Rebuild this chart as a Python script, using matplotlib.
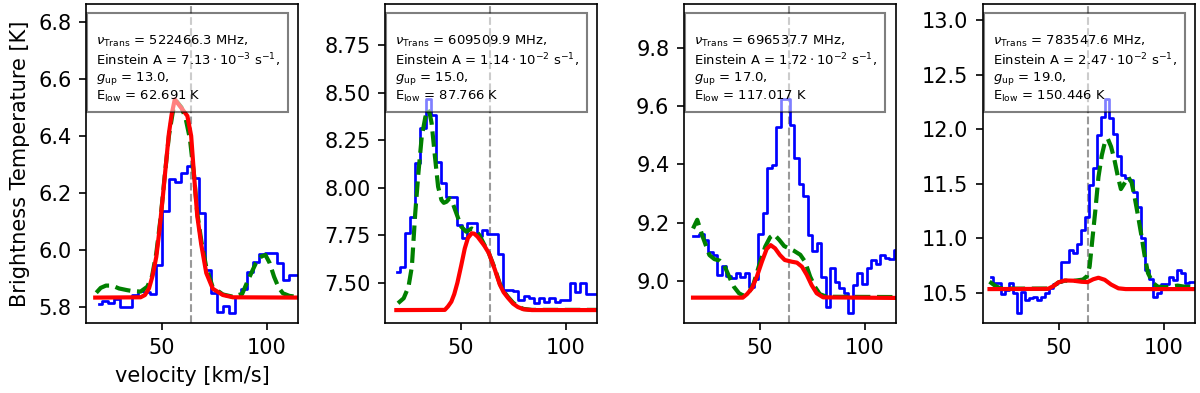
import numpy as np
import matplotlib
matplotlib.use("Agg")
import matplotlib.pyplot as plt
from matplotlib.ticker import MultipleLocator

# line info for each panel
freqs = ["522466.3", "609509.9", "696537.7", "783547.6"]
einstein = [r"7.13\cdot10^{-3}", r"1.14\cdot10^{-2}", r"1.72\cdot10^{-2}", r"2.47\cdot10^{-2}"]
g_up = ["13.0", "15.0", "17.0", "19.0"]
e_low = ["62.691", "87.766", "117.017", "150.446"]

# observed spectra (channel start velocity, channel width, brightness per channel)
obs_v0 = [20.3, 19.8, 18.1, 17.65]
obs_dv = [2.87, 2.459, 2.152, 1.913]
obs_t1 = [5.812, 5.823, 5.814, 5.828, 5.802, 5.800, 5.843, 5.857, 5.855, 5.846,
          5.948, 6.138, 6.248, 6.240, 6.271, 6.295, 6.254, 6.129, 5.931, 5.849,
          5.785, 5.805, 5.781, 5.837, 5.863, 5.925, 5.960, 5.987, 5.989, 5.989,
          5.954, 5.896, 5.913, 5.913]
obs_t2 = [7.558, 7.584, 7.760, 7.847, 8.128, 8.312, 8.465, 8.382, 8.137, 8.023,
          7.952, 7.952, 7.803, 7.733, 7.816, 7.816, 7.745, 7.777, 7.756, 7.756,
          7.650, 7.462, 7.462, 7.458, 7.409, 7.430, 7.418, 7.395, 7.418, 7.400,
          7.418, 7.400, 7.410, 7.410, 7.497, 7.450, 7.497, 7.440, 7.440, 7.440]
obs_t3 = [9.154, 9.154, 9.160, 9.141, 9.100, 9.090, 9.021, 9.050, 9.018, 9.010,
          9.026, 9.014, 9.026, 8.980, 9.008, 9.161, 9.232, 9.386, 9.398, 9.529,
          9.623, 9.623, 9.535, 9.421, 9.333, 9.291, 9.158, 9.104, 9.131, 9.015,
          8.912, 9.043, 8.998, 8.975, 8.960, 8.889, 8.986, 9.028, 8.990, 9.043,
          9.072, 9.060, 9.089, 9.080, 9.075, 9.106]
obs_t4 = [10.647, 10.586, 10.586, 10.485, 10.525, 10.592, 10.494, 10.311, 10.509, 10.433,
          10.448, 10.457, 10.433, 10.457, 10.494, 10.540, 10.580, 10.600, 10.784, 10.784,
          10.891, 10.861, 10.950, 11.075, 11.197, 11.487, 11.640, 11.946, 12.114, 12.273,
          12.106, 11.955, 11.755, 11.579, 11.550, 11.533, 11.426, 11.288, 11.000, 10.710,
          10.625, 10.460, 10.500, 10.580, 10.580, 10.647, 10.620, 10.708, 10.678, 10.586,
          10.600, 10.600]

# single-line model (red)
red_v1 = [18.4, 40.0, 42.1, 44.0, 45.6, 47.5, 49.0, 50.6, 52.2, 53.5, 54.8, 56.3,
          62.3, 64.1, 65.5, 67.0, 68.9, 71.3, 74.4, 79.2, 84.0, 115.0]
red_t1 = [5.834, 5.835, 5.843, 5.866, 5.907, 5.977, 6.070, 6.187, 6.310, 6.409, 6.475, 6.528,
          6.470, 6.400, 6.260, 6.120, 6.020, 5.920, 5.865, 5.843, 5.835, 5.834]
red_v2 = [19.4, 42.5, 44.0, 45.6, 47.0, 48.5, 50.3, 52.0, 53.5, 55.3, 56.5, 58.1,
          61.3, 63.5, 66.3, 68.7, 70.5, 72.6, 75.0, 77.3, 80.0, 84.0, 115.0]
red_t2 = [7.356, 7.357, 7.375, 7.400, 7.440, 7.500, 7.590, 7.680, 7.735, 7.760, 7.758, 7.742,
          7.695, 7.655, 7.570, 7.490, 7.450, 7.420, 7.390, 7.372, 7.360, 7.356, 7.356]
red_v3 = [18.3, 42.0, 44.0, 46.4, 48.7, 51.1, 53.4, 55.3, 57.4, 59.7, 62.0, 65.5,
          67.8, 70.2, 72.5, 74.8, 77.2, 80.3, 115.0]
red_t3 = [8.943, 8.943, 8.955, 8.975, 9.015, 9.066, 9.110, 9.123, 9.112, 9.089, 9.072, 9.066,
          9.063, 9.049, 9.021, 8.986, 8.958, 8.944, 8.942]
red_v4 = [17.1, 45.0, 47.5, 50.0, 53.0, 57.0, 61.0, 63.8, 66.5, 69.0, 72.0, 75.0,
          78.5, 82.0, 115.0]
red_t4 = [10.533, 10.535, 10.560, 10.595, 10.612, 10.610, 10.600, 10.597, 10.623, 10.637,
          10.618, 10.575, 10.540, 10.533, 10.533]

# full model (green)
grn_v1 = [18.9, 21.0, 23.5, 26.5, 29.7, 33.6, 36.0, 40.0, 43.2, 45.5, 47.5, 49.5, 51.5,
          53.5, 55.5, 57.3, 59.5, 61.5, 63.5, 65.5, 67.0, 69.0, 71.3, 74.4, 79.2, 84.0,
          88.4, 91.5, 94.9, 97.5, 99.5, 101.5, 103.6, 105.7, 107.8, 110.9, 115.0]
grn_t1 = [5.851, 5.868, 5.876, 5.876, 5.866, 5.860, 5.857, 5.855, 5.872, 5.910, 5.990, 6.110, 6.260,
          6.400, 6.490, 6.520, 6.500, 6.460, 6.390, 6.260, 6.130, 6.030, 5.940, 5.870, 5.845, 5.837,
          5.847, 5.900, 5.954, 5.978, 5.983, 5.955, 5.907, 5.870, 5.849, 5.840, 5.836]
grn_v2 = [20.2, 22.9, 25.2, 26.8, 28.4, 29.9, 31.5, 33.2, 34.4, 35.3, 36.2, 37.8, 39.3,
          40.9, 42.0, 43.3, 44.8, 46.2, 48.0, 50.3, 52.7, 55.3, 57.2, 59.0, 61.3, 63.5,
          66.3, 68.7, 70.5, 72.6, 75.0, 77.3, 80.0, 84.0, 115.0]
grn_t2 = [7.392, 7.418, 7.479, 7.584, 7.865, 8.075, 8.268, 8.370, 8.410, 8.390, 8.340, 8.163, 8.005,
          7.935, 7.920, 7.926, 7.944, 7.920, 7.865, 7.795, 7.768, 7.785, 7.775, 7.750, 7.700, 7.655,
          7.575, 7.495, 7.455, 7.425, 7.395, 7.375, 7.362, 7.357, 7.357]
grn_v3 = [18.3, 20.3, 22.9, 26.1, 28.5, 31.0, 33.1, 35.5, 37.8, 40.2, 42.5, 44.8, 47.2,
          50.3, 52.7, 55.0, 56.9, 59.5, 61.7, 63.1, 66.3, 69.4, 71.7, 74.1, 76.4, 78.7,
          82.0, 115.0]
grn_t3 = [9.180, 9.210, 9.152, 9.089, 9.075, 9.070, 9.055, 9.015, 8.980, 8.958, 8.949, 8.958, 8.992,
          9.066, 9.118, 9.150, 9.160, 9.140, 9.120, 9.115, 9.104, 9.090, 9.066, 9.015, 8.980, 8.955,
          8.946, 8.945]
grn_v4 = [17.1, 20.0, 22.3, 30.0, 45.0, 47.5, 50.0, 53.0, 57.0, 61.6, 63.5, 64.8, 65.9,
          67.5, 69.0, 70.6, 72.2, 73.5, 75.0, 76.6, 78.2, 79.7, 81.3, 83.2, 84.8, 86.3,
          87.9, 89.5, 91.0, 92.6, 94.9, 97.3, 101.0, 106.7, 110.0, 115.0]
grn_t4 = [10.601, 10.561, 10.540, 10.537, 10.538, 10.560, 10.595, 10.610, 10.608, 10.620, 10.650,
          10.740, 10.950, 11.250, 11.560, 11.760, 11.890, 11.910, 11.840, 11.720, 11.570, 11.450,
          11.500, 11.560, 11.510, 11.370, 11.200, 11.020, 10.840, 10.680, 10.590, 10.555, 10.550,
          10.565, 10.555, 10.552]

obs_t = [obs_t1, obs_t2, obs_t3, obs_t4]
red_v = [red_v1, red_v2, red_v3, red_v4]
red_t = [red_t1, red_t2, red_t3, red_t4]
grn_v = [grn_v1, grn_v2, grn_v3, grn_v4]
grn_t = [grn_t1, grn_t2, grn_t3, grn_t4]

v_sys = 64.0
ylims = [(5.745, 6.862), (7.288, 8.966), (8.856, 9.95), (10.222, 13.147)]
ysteps = [0.2, 0.25, 0.2, 0.5]

fig = plt.figure(figsize=(8, 2.62), dpi=150)
lefts = [86, 385, 684, 983]

for i in range(4):
    ax = fig.add_axes([lefts[i] / 1200, 70 / 393, 212 / 1200, 319 / 393])
    vel = obs_v0[i] + obs_dv[i] * np.arange(len(obs_t[i]))
    ax.axvline(v_sys, color="gray", ls="--", lw=1, alpha=0.8)
    ax.plot(vel, obs_t[i], drawstyle="steps-mid", color="blue", lw=1.3)
    ax.plot(grn_v[i], grn_t[i], color="green", ls="--", lw=2)
    ax.plot(red_v[i], red_t[i], color="red", lw=2)
    ax.set_xlim(14, 115)
    ax.set_ylim(*ylims[i])
    ax.xaxis.set_major_locator(MultipleLocator(50))
    ax.yaxis.set_major_locator(MultipleLocator(ysteps[i]))

    txt = ("\n" + r"$\nu_{\rm Trans}$ = " + freqs[i] + " MHz,\n"
           + "Einstein A = $" + einstein[i] + r"$ s$^{-1}$," + "\n"
           + r"$g_{\rm up}$ = " + g_up[i] + ",\n"
           + r"E$_{\rm low}$ = " + e_low[i] + " K")
    ax.text(0.047, 0.95, txt, transform=ax.transAxes, fontsize=6.3, va="top", ha="left",
            linespacing=1.13,
            bbox=dict(boxstyle="square,pad=0.65", facecolor="white", alpha=0.5))

    if i == 0:
        ax.set_ylabel("Brightness Temperature [K]")
        ax.set_xlabel("velocity [km/s]")

fig.savefig("out.png", dpi=150)
